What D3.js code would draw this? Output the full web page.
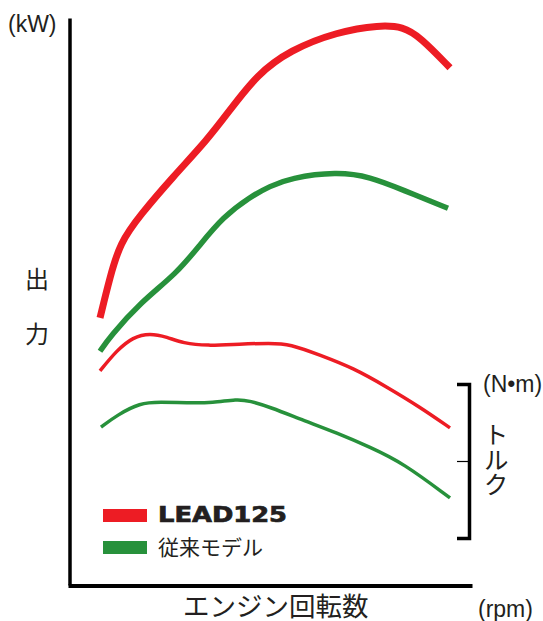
<!DOCTYPE html>
<html>
<head>
<meta charset="utf-8">
<script src="https://cdn.jsdelivr.net/npm/d3@7"></script>
<style>
	body { margin: 0; background: #fff; }
	svg { display: block; }
</style>
</head>
<body>
<div id="chart"></div>
<script>
// engine speed (rpm) and readings for each curve
const rpmLeadPower = [1750, 2000, 2250, 2750, 3575, 4425, 5000, 5675, 6500, 7675, 8750, 9325, 9750, 10500];
const kwLead = [4.24, 4.89, 5.43, 5.87, 6.48, 7.06, 7.54, 8.10, 8.49, 8.78, 8.89, 8.86, 8.70, 8.21];

const rpmOldPower = [1750, 2000, 2750, 3675, 4250, 4825, 5500, 6000, 6500, 7675, 8500, 9325, 10450];
const kwOld = [3.71, 3.94, 4.48, 4.95, 5.40, 5.84, 6.16, 6.33, 6.46, 6.56, 6.48, 6.27, 5.98];

const rpmLeadTorque = [1750, 2175, 2575, 3000, 3425, 3825, 4425, 5250, 6000, 6500, 7250, 8075, 8925, 9750, 10500];
const nmLead = [10.34, 10.88, 11.22, 11.32, 11.22, 11.06, 10.99, 11.04, 11.06, 11.04, 10.75, 10.42, 9.92, 9.40, 8.86];

const rpmOldTorque = [1775, 2175, 2750, 3250, 3925, 4575, 5175, 5500, 6000, 6825, 7675, 8500, 9325, 10500];
const nmOld = [8.88, 9.19, 9.51, 9.53, 9.51, 9.51, 9.61, 9.56, 9.40, 9.06, 8.73, 8.36, 7.95, 7.04];

const legendLabels = ["LEAD125", "従来モデル"];
const torqueTicks = [8];

const colors = {
	lead: "#ED1C24",
	old: "#27913B",
	axis: "#000",
	text: "#231F20"
};
const dimensions = {
	width: 543,
	height: 621,
	powerStroke: 7,
	oldPowerStroke: 5.5,
	torqueStroke: 3.5
};
const jp = "'Noto Sans CJK JP', 'Noto Sans', sans-serif";
const latin = "'Liberation Sans', Arial, sans-serif";

const svg = d3.select("#chart")
	.append("svg")
	.attr("width", dimensions.width)
	.attr("height", dimensions.height);

// Scales
const x = d3.scaleLinear().domain([1000, 11000]).range([70, 470]);
const yPower = d3.scaleLinear().domain([0, 9]).range([585, 18]);
const yTorque = d3.scaleLinear().domain([6, 10]).range([538, 384]);

// Axes
const yAxis = svg.append("g")
	.attr("transform", "translate(69.5,0)")
	.call(d3.axisLeft(yPower).ticks(0).tickSizeOuter(0));
yAxis.select(".domain").attr("stroke", colors.axis).attr("stroke-width", 3.5);

const xAxis = svg.append("g")
	.attr("transform", "translate(0,585.5)")
	.call(d3.axisBottom(x).ticks(0).tickSizeOuter(0));
xAxis.select(".domain")
	.attr("stroke", colors.axis)
	.attr("stroke-width", 4)
	.attr("stroke-linecap", "square");

// torque bracket on the right
const torqueAxis = svg.append("g")
	.attr("transform", "translate(469,0)")
	.call(d3.axisLeft(yTorque).tickValues(torqueTicks).tickSizeInner(12).tickSizeOuter(12).tickFormat(""));
torqueAxis.select(".domain").attr("stroke", colors.axis).attr("stroke-width", 3.5).attr("fill", "none");
torqueAxis.selectAll(".tick line").attr("stroke", colors.axis).attr("stroke-width", 1.2);

// Curves
const series = [
	{ rpm: rpmLeadPower, val: kwLead, y: yPower, color: colors.lead, width: dimensions.powerStroke },
	{ rpm: rpmOldPower, val: kwOld, y: yPower, color: colors.old, width: dimensions.oldPowerStroke },
	{ rpm: rpmLeadTorque, val: nmLead, y: yTorque, color: colors.lead, width: dimensions.torqueStroke },
	{ rpm: rpmOldTorque, val: nmOld, y: yTorque, color: colors.old, width: dimensions.torqueStroke }
];

svg.append("g")
	.selectAll("path")
	.data(series)
	.enter()
	.append("path")
	.attr("fill", "none")
	.attr("stroke", (d) => d.color)
	.attr("stroke-width", (d) => d.width)
	.attr("d", (s) => d3.line()
		.x((d) => x(d[0]))
		.y((d) => s.y(d[1]))
		.curve(d3.curveBasis)(d3.zip(s.rpm, s.val)));

// Legend
const legend = svg.append("g");
legend.selectAll("rect")
	.data([colors.lead, colors.old])
	.enter()
	.append("rect")
	.attr("x", 103)
	.attr("y", (d, i) => 509 + i * 32)
	.attr("width", 44)
	.attr("height", 13)
	.attr("fill", (d) => d);

legend.append("text")
	.text(legendLabels[0])
	.attr("x", 158)
	.attr("y", 522)
	.attr("textLength", 129)
	.attr("lengthAdjust", "spacingAndGlyphs")
	.attr("fill", colors.text)
	.attr("stroke", colors.text)
	.attr("stroke-width", 0.7)
	.style("font-family", "'DejaVu Sans', sans-serif")
	.style("font-weight", "bold")
	.style("font-size", "20.5px");

legend.append("text")
	.text(legendLabels[1])
	.attr("x", 158)
	.attr("y", 555)
	.attr("fill", colors.text)
	.style("font-family", jp)
	.style("font-size", "21px");

// Axis labels
const labels = [
	{ t: "(kW)", x: 8, y: 32, f: latin, s: 23, a: "start" },
	{ t: "出", x: 37, y: 288, f: jp, s: 24, a: "middle" },
	{ t: "力", x: 37, y: 343, f: jp, s: 24, a: "middle" },
	{ t: "(N•m)", x: 483, y: 392, f: latin, s: 23, a: "start" },
	{ t: "エンジン回転数", x: 183, y: 616, f: jp, s: 26.5, a: "start" },
	{ t: "(rpm)", x: 478, y: 617, f: latin, s: 23, a: "start" }
];

svg.append("g")
	.selectAll("text")
	.data(labels)
	.enter()
	.append("text")
	.text((d) => d.t)
	.attr("x", (d) => d.x)
	.attr("y", (d) => d.y)
	.attr("text-anchor", (d) => d.a)
	.attr("fill", colors.text)
	.style("font-family", (d) => d.f)
	.style("font-size", (d) => d.s + "px");

// vertical torque label
svg.append("text")
	.text("トルク")
	.attr("x", 496)
	.attr("y", 422)
	.attr("fill", colors.text)
	.style("writing-mode", "vertical-rl")
	.style("font-family", jp)
	.style("font-size", "25px");
</script>
</body>
</html>
